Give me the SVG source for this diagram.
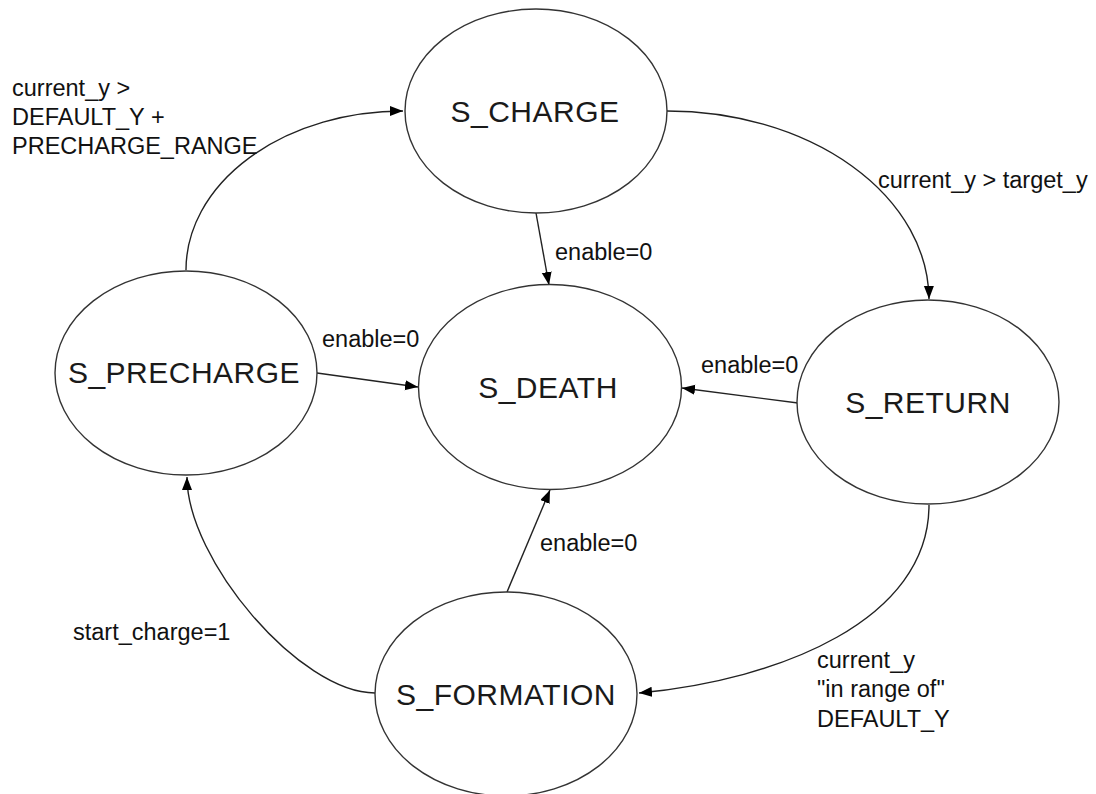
<svg xmlns="http://www.w3.org/2000/svg" width="1096" height="794" viewBox="0 0 1096 794">
<style>
.node ellipse{fill:#fff;stroke:#333;stroke-width:1.4}
.node text{font-family:"Liberation Sans",Arial,sans-serif;font-size:30px;fill:#1a1a1a;text-anchor:middle;letter-spacing:0.5px}
.edges path{fill:none;stroke:#222;stroke-width:1.4;marker-end:url(#ah)}
.lbl{font-family:"Liberation Sans",Arial,sans-serif;font-size:23.5px;fill:#111}
</style>
<defs>
<marker id="ah" markerUnits="userSpaceOnUse" markerWidth="14" markerHeight="12" refX="13" refY="5" orient="auto">
<path d="M0,0 L13,5 L0,10 z" fill="#000"/>
</marker>
</defs>
<rect width="1096" height="794" fill="#fff"/>
<g class="edges" id="connectors">
<path d="M186,270 A217,159 0 0 1 403,111"/>
<path d="M667,111 A262,189 0 0 1 929,299"/>
<path d="M536,213 L549,285"/>
<path d="M317,373 L418,387"/>
<path d="M798,403 L682,388"/>
<path d="M507,592 L550,490"/>
<path d="M929,505 C929,620 780,680 639,693"/>
<path d="M375,693 C300,693 187,560 187,477"/>
</g>
<g id="labels">
<text class="lbl" x="12" y="96">current_y &gt;</text>
<text class="lbl" x="12" y="125">DEFAULT_Y +</text>
<text class="lbl" x="12" y="154">PRECHARGE_RANGE</text>
<text class="lbl" x="878" y="188">current_y &gt; target_y</text>
<text class="lbl" x="555" y="260">enable=0</text>
<text class="lbl" x="322" y="347">enable=0</text>
<text class="lbl" x="701" y="373">enable=0</text>
<text class="lbl" x="540" y="551">enable=0</text>
<text class="lbl" x="73" y="640">start_charge=1</text>
<text class="lbl" x="817" y="668">current_y</text>
<text class="lbl" x="817" y="697">"in range of"</text>
<text class="lbl" x="817" y="727">DEFAULT_Y</text>
</g>
<g class="node" id="S_CHARGE"><ellipse cx="536" cy="111" rx="131" ry="102"/><text x="535" y="122">S_CHARGE</text></g>
<g class="node" id="S_DEATH"><ellipse cx="550" cy="387" rx="131.5" ry="102.5"/><text x="548" y="398">S_DEATH</text></g>
<g class="node" id="S_PRECHARGE"><ellipse cx="186" cy="373" rx="131" ry="102"/><text x="184" y="383">S_PRECHARGE</text></g>
<g class="node" id="S_RETURN"><ellipse cx="928" cy="402" rx="131" ry="102"/><text x="928" y="413">S_RETURN</text></g>
<g class="node" id="S_FORMATION"><ellipse cx="506" cy="694" rx="131" ry="102"/><text x="506" y="705">S_FORMATION</text></g>
</svg>
